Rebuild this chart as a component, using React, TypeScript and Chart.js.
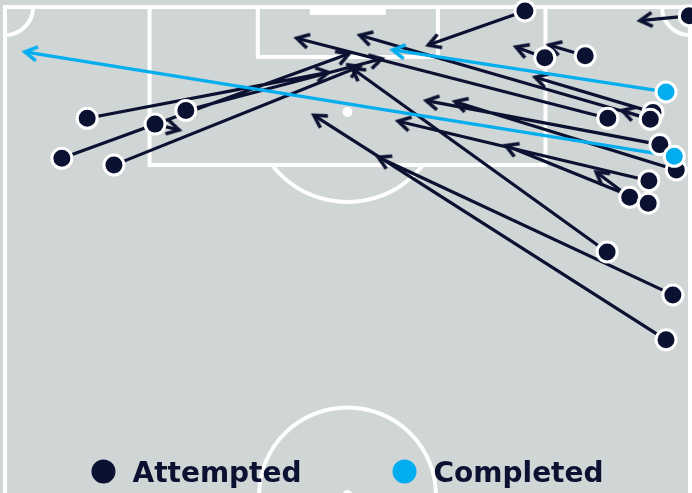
import React, { useEffect, useRef } from 'react';
import { Chart, registerables } from 'chart.js';

Chart.register(...registerables);

// Pitch units: x 0–100 across the pitch (touchline to touchline), y 0–50 from the goal line to halfway
const SERIES = ['Attempted', 'Completed'];
const COLORS = ['#0b1131', '#00aeef'];
const BG = '#d0d5d5';
const LINE = '#ffffff';

// Attempted passes
const attStartX = [12.0, 8.3, 21.9, 26.4, 15.9, 75.9, 99.9, 84.7, 78.8, 88.0, 94.2, 94.6, 94.2, 95.6, 98.0, 94.0, 91.2, 93.9, 87.9, 97.5, 96.5];
const attStartY = [11.4, 15.5, 12.0, 10.6, 16.2, 0.4, 0.9, 5.0, 5.2, 11.4, 11.5, 10.8, 11.5, 14.1, 16.7, 17.8, 19.5, 20.1, 25.1, 29.5, 34.1];
const attEndX = [47.2, 50.2, 25.4, 55.0, 51.8, 61.8, 92.7, 79.4, 74.6, 42.6, 51.8, 77.4, 90.1, 61.5, 65.7, 57.4, 86.3, 73.1, 50.7, 54.5, 45.1];
const attEndY = [6.7, 4.8, 12.6, 5.3, 6.1, 3.9, 1.4, 3.9, 4.1, 3.2, 2.9, 7.2, 10.6, 9.6, 9.7, 11.7, 16.9, 14.2, 6.3, 15.4, 11.1];

// Completed passes
const cmpStartX = [96.5, 97.7];
const cmpStartY = [8.7, 15.3];
const cmpEndX = [56.6, 2.9];
const cmpEndY = [4.4, 4.6];

// Pitch markings (pitch units)
const PITCH = {
  boxLeft: 21.1, boxRight: 78.9, boxDepth: 16.2,
  sixLeft: 36.9, sixRight: 63.2, sixDepth: 5.12,
  goalLeft: 44.5, goalRight: 55.6, goalDepth: 0.82,
  spotY: 10.76, arcRx: 13.6, arcRy: 9.22,
  circleRx: 12.9, circleRy: 8.97,
  cornerRx: 4.1, cornerRy: 2.87,
};

function starts(xs: number[], ys: number[]) {
  return xs.map((x, i) => ({ x, y: ys[i] }));
}

function segments(sx: number[], sy: number[], ex: number[], ey: number[]) {
  const out: { x: number; y: number }[] = [];
  for (let i = 0; i < sx.length; i++) {
    out.push({ x: sx[i], y: sy[i] }, { x: ex[i], y: ey[i] }, { x: NaN, y: NaN });
  }
  return out;
}

function makeArrowHead(color: string) {
  const s = 40;
  const c = document.createElement('canvas');
  c.width = s;
  c.height = s;
  const g = c.getContext('2d')!;
  g.strokeStyle = color;
  g.lineWidth = 3.6;
  g.lineCap = 'butt';
  g.lineJoin = 'miter';
  const L = 14;
  const a = (30 * Math.PI) / 180;
  g.beginPath();
  g.moveTo(s / 2 - L * Math.cos(a), s / 2 - L * Math.sin(a));
  g.lineTo(s / 2, s / 2);
  g.lineTo(s / 2 - L * Math.cos(a), s / 2 + L * Math.sin(a));
  g.stroke();
  return c;
}

const rotation = (c: any) => {
  if (c.type !== 'data' || c.dataIndex % 3 !== 1) return 0;
  const d = c.dataset.data;
  const a = d[c.dataIndex - 1];
  const b = d[c.dataIndex];
  const xs = c.chart.scales.x;
  const ys = c.chart.scales.y;
  const dx = xs.getPixelForValue(b.x) - xs.getPixelForValue(a.x);
  const dy = ys.getPixelForValue(b.y) - ys.getPixelForValue(a.y);
  return (Math.atan2(dy, dx) * 180) / Math.PI;
};

const pitchPlugin = {
  id: 'pitch',
  beforeDraw(chart: any) {
    const { ctx, width, height } = chart;
    const xs = chart.scales.x;
    const ys = chart.scales.y;
    const X = (v: number) => xs.getPixelForValue(v);
    const Y = (v: number) => ys.getPixelForValue(v);
    const P = PITCH;
    ctx.save();
    ctx.fillStyle = BG;
    ctx.fillRect(0, 0, width, height);
    ctx.strokeStyle = LINE;
    ctx.fillStyle = LINE;
    ctx.lineWidth = 4;
    // outline + halfway
    ctx.strokeRect(X(0), Y(0), X(100) - X(0), Y(50) - Y(0));
    // penalty box
    ctx.beginPath();
    ctx.moveTo(X(P.boxLeft), Y(0));
    ctx.lineTo(X(P.boxLeft), Y(P.boxDepth));
    ctx.lineTo(X(P.boxRight), Y(P.boxDepth));
    ctx.lineTo(X(P.boxRight), Y(0));
    ctx.stroke();
    // six-yard box
    ctx.beginPath();
    ctx.moveTo(X(P.sixLeft), Y(0));
    ctx.lineTo(X(P.sixLeft), Y(P.sixDepth));
    ctx.lineTo(X(P.sixRight), Y(P.sixDepth));
    ctx.lineTo(X(P.sixRight), Y(0));
    ctx.stroke();
    // goal
    ctx.fillRect(X(P.goalLeft), Y(0), X(P.goalRight) - X(P.goalLeft), Y(P.goalDepth) - Y(0));
    // penalty spot
    ctx.beginPath();
    ctx.arc(X(50), Y(P.spotY), 5, 0, Math.PI * 2);
    ctx.fill();
    // penalty arc (outside the box)
    ctx.save();
    ctx.beginPath();
    ctx.rect(0, Y(P.boxDepth) + 2, width, height);
    ctx.clip();
    ctx.beginPath();
    ctx.ellipse(X(50), Y(P.spotY), X(P.arcRx) - X(0), Y(P.arcRy) - Y(0), 0, 0, Math.PI * 2);
    ctx.stroke();
    ctx.restore();
    // centre circle + spot
    ctx.beginPath();
    ctx.ellipse(X(50), Y(50), X(P.circleRx) - X(0), Y(P.circleRy) - Y(0), 0, 0, Math.PI * 2);
    ctx.stroke();
    ctx.beginPath();
    ctx.arc(X(50), Y(50), 5, 0, Math.PI * 2);
    ctx.fill();
    // corner arcs
    ctx.beginPath();
    ctx.ellipse(X(0), Y(0), X(P.cornerRx) - X(0), Y(P.cornerRy) - Y(0), 0, 0, Math.PI / 2);
    ctx.stroke();
    ctx.beginPath();
    ctx.ellipse(X(100), Y(0), X(P.cornerRx) - X(0), Y(P.cornerRy) - Y(0), 0, Math.PI / 2, Math.PI);
    ctx.stroke();
    ctx.restore();
  },
};

const legendPlugin = {
  id: 'pitchLegend',
  afterDraw(chart: any) {
    const { ctx } = chart;
    ctx.save();
    ctx.font = 'bold 28px "DejaVu Sans"';
    ctx.textBaseline = 'alphabetic';
    const R = 12;
    const GAP = 29;
    const SPACING = 91;
    const items = SERIES.map((label, i) => ({ label, color: COLORS[i], w: ctx.measureText(label).width }));
    const total = items.reduce((s, it) => s + R + GAP + it.w, 0) + SPACING * (items.length - 1);
    let x = chart.scales.x.getPixelForValue(50) - total / 2;
    const cy = chart.height - 21.5;
    items.forEach((it) => {
      ctx.fillStyle = it.color;
      ctx.beginPath();
      ctx.arc(x + R, cy, R, 0, Math.PI * 2);
      ctx.fill();
      ctx.fillStyle = COLORS[0];
      ctx.fillText(it.label, x + R + GAP, cy + 10.5);
      x += R + GAP + it.w + SPACING;
    });
    ctx.restore();
  },
};

export default function App() {
  const ref = useRef<HTMLCanvasElement | null>(null);

  useEffect(() => {
    document.body.style.margin = '0';
    const canvas = ref.current;
    if (!canvas) return;
    const darkHead = makeArrowHead(COLORS[0]);
    const blueHead = makeArrowHead(COLORS[1]);

    const lineDataset = (label: string, color: string, head: HTMLCanvasElement, data: any[], order: number) => ({
      label,
      data,
      order,
      showLine: true,
      spanGaps: false,
      borderColor: color,
      borderWidth: 3.2,
      borderCapStyle: 'butt',
      fill: false,
      tension: 0,
      pointRadius: (c: any) => (c.dataIndex % 3 === 1 ? 2 : 0),
      pointHoverRadius: (c: any) => (c.dataIndex % 3 === 1 ? 2 : 0),
      pointStyle: (c: any) => (c.dataIndex % 3 === 1 ? head : 'circle'),
      pointRotation: rotation,
      pointBorderWidth: 0,
      pointBackgroundColor: color,
    });

    const pointDataset = (label: string, color: string, data: any[], order: number) => ({
      label,
      data,
      order,
      showLine: false,
      pointRadius: 10,
      pointHoverRadius: 10,
      pointBorderWidth: 3,
      pointHoverBorderWidth: 3,
      pointBorderColor: '#ffffff',
      pointBackgroundColor: color,
      pointStyle: 'circle',
    });

    const chart = new Chart(canvas, {
      type: 'scatter',
      data: {
        datasets: [
          pointDataset(SERIES[1], COLORS[1], starts(cmpStartX, cmpStartY), 0),
          pointDataset(SERIES[0], COLORS[0], starts(attStartX, attStartY), 1),
          lineDataset(SERIES[1] + ' passes', COLORS[1], blueHead, segments(cmpStartX, cmpStartY, cmpEndX, cmpEndY), 2),
          lineDataset(SERIES[0] + ' passes', COLORS[0], darkHead, segments(attStartX, attStartY, attEndX, attEndY), 3),
        ] as any,
      },
      options: {
        animation: false,
        responsive: false,
        events: [],
        layout: { padding: 0, autoPadding: false },
        scales: {
          x: { type: 'linear', min: -0.73, max: 100.292, display: false },
          y: { type: 'linear', min: -0.7172, max: 49.795, reverse: true, display: false },
        },
        plugins: {
          legend: { display: false },
          tooltip: { enabled: false },
        },
      } as any,
      plugins: [pitchPlugin, legendPlugin],
    });
    return () => chart.destroy();
  }, []);

  return (
    <div style={{ width: 692, height: 493 }}>
      <canvas ref={ref} width={692} height={493} style={{ display: 'block' }} />
    </div>
  );
}
